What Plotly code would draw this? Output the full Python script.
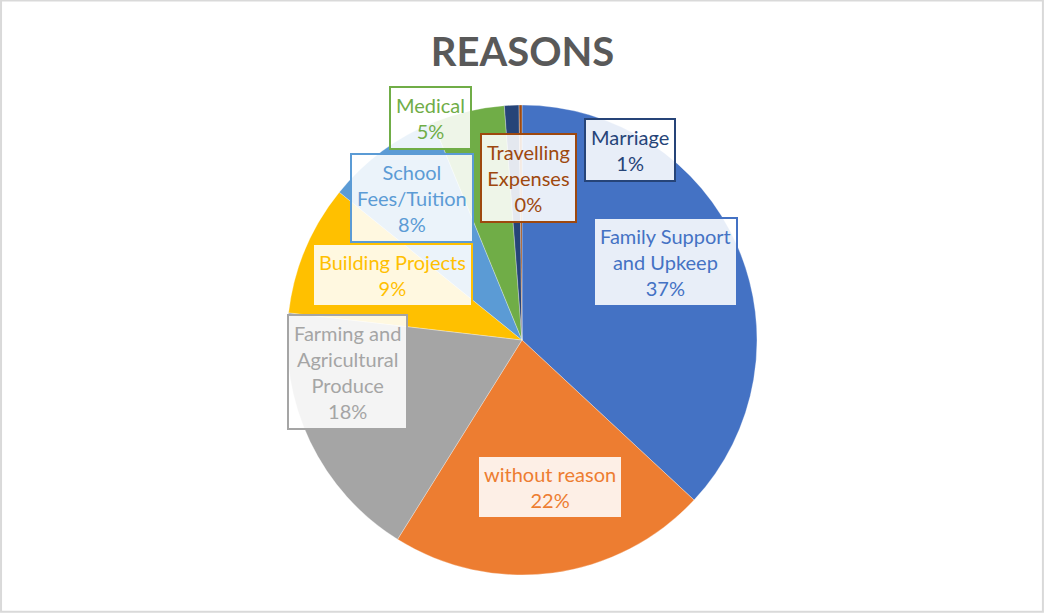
import plotly.graph_objects as go

# ---- data ----
categories = [
    "Family Support<br>and Upkeep",
    "without reason",
    "Farming and<br>Agricultural<br>Produce",
    "Building Projects",
    "School<br>Fees/Tuition",
    "Medical",
    "Marriage",
    "Travelling<br>Expenses",
]
values = [37, 22, 18, 9, 8, 5, 1, 0.2]
pct_labels = ["37%", "22%", "18%", "9%", "8%", "5%", "1%", "0%"]
colors = ["#4472C4", "#ED7D31", "#A5A5A5", "#FFC000", "#5B9BD5", "#70AD47", "#264478", "#9E480E"]

# label box centres (pixels from top-left), like Excel's best-fit labels
label_x = [665, 550, 347, 392, 412, 430, 630, 528]
label_y = [262, 487, 372, 275, 198, 118, 150, 178]

W, H = 1045, 613
cx_px, cy_px, R = 522, 340, 235

dom_x = [(cx_px - R) / W, (cx_px + R) / W]
dom_y = [(H - cy_px - R) / H, (H - cy_px + R) / H]

fig = go.Figure()
fig.add_trace(go.Pie(
    labels=[c.replace("<br>", " ") for c in categories],
    values=values,
    sort=False,
    direction="clockwise",
    rotation=0,
    marker=dict(colors=colors, line=dict(color="rgba(255,255,255,0.6)", width=0.5)),
    textinfo="none",
    hoverinfo="label+percent",
    showlegend=False,
    domain=dict(x=dom_x, y=dom_y),
))

annotations = []
for cat, pl, col, lx, ly in zip(categories, pct_labels, colors, label_x, label_y):
    annotations.append(dict(
        x=lx / W, y=1 - ly / H, xref="paper", yref="paper",
        xanchor="center", yanchor="middle",
        text=f"{cat}<br>{pl}", showarrow=False,
        font=dict(family="Lato, Carlito, Calibri, sans-serif", size=20, color=col),
        bgcolor="rgba(255,255,255,0.88)", bordercolor=col, borderwidth=2, borderpad=5,
        align="center",
    ))

fig.update_layout(
    width=W, height=H,
    margin=dict(l=0, r=0, t=0, b=0),
    paper_bgcolor="white",
    title=dict(text="<b>REASONS</b>", x=0.5, xanchor="center", y=0.915, yanchor="middle",
               font=dict(family="Lato, Carlito, Calibri, sans-serif", size=40, color="#595959")),
    annotations=annotations,
    shapes=[dict(type="rect", xref="paper", yref="paper", x0=0.001, y0=0.002, x1=0.998, y1=0.999,
                 line=dict(color="#D9D9D9", width=2))],
)

fig.write_html("out.html")
